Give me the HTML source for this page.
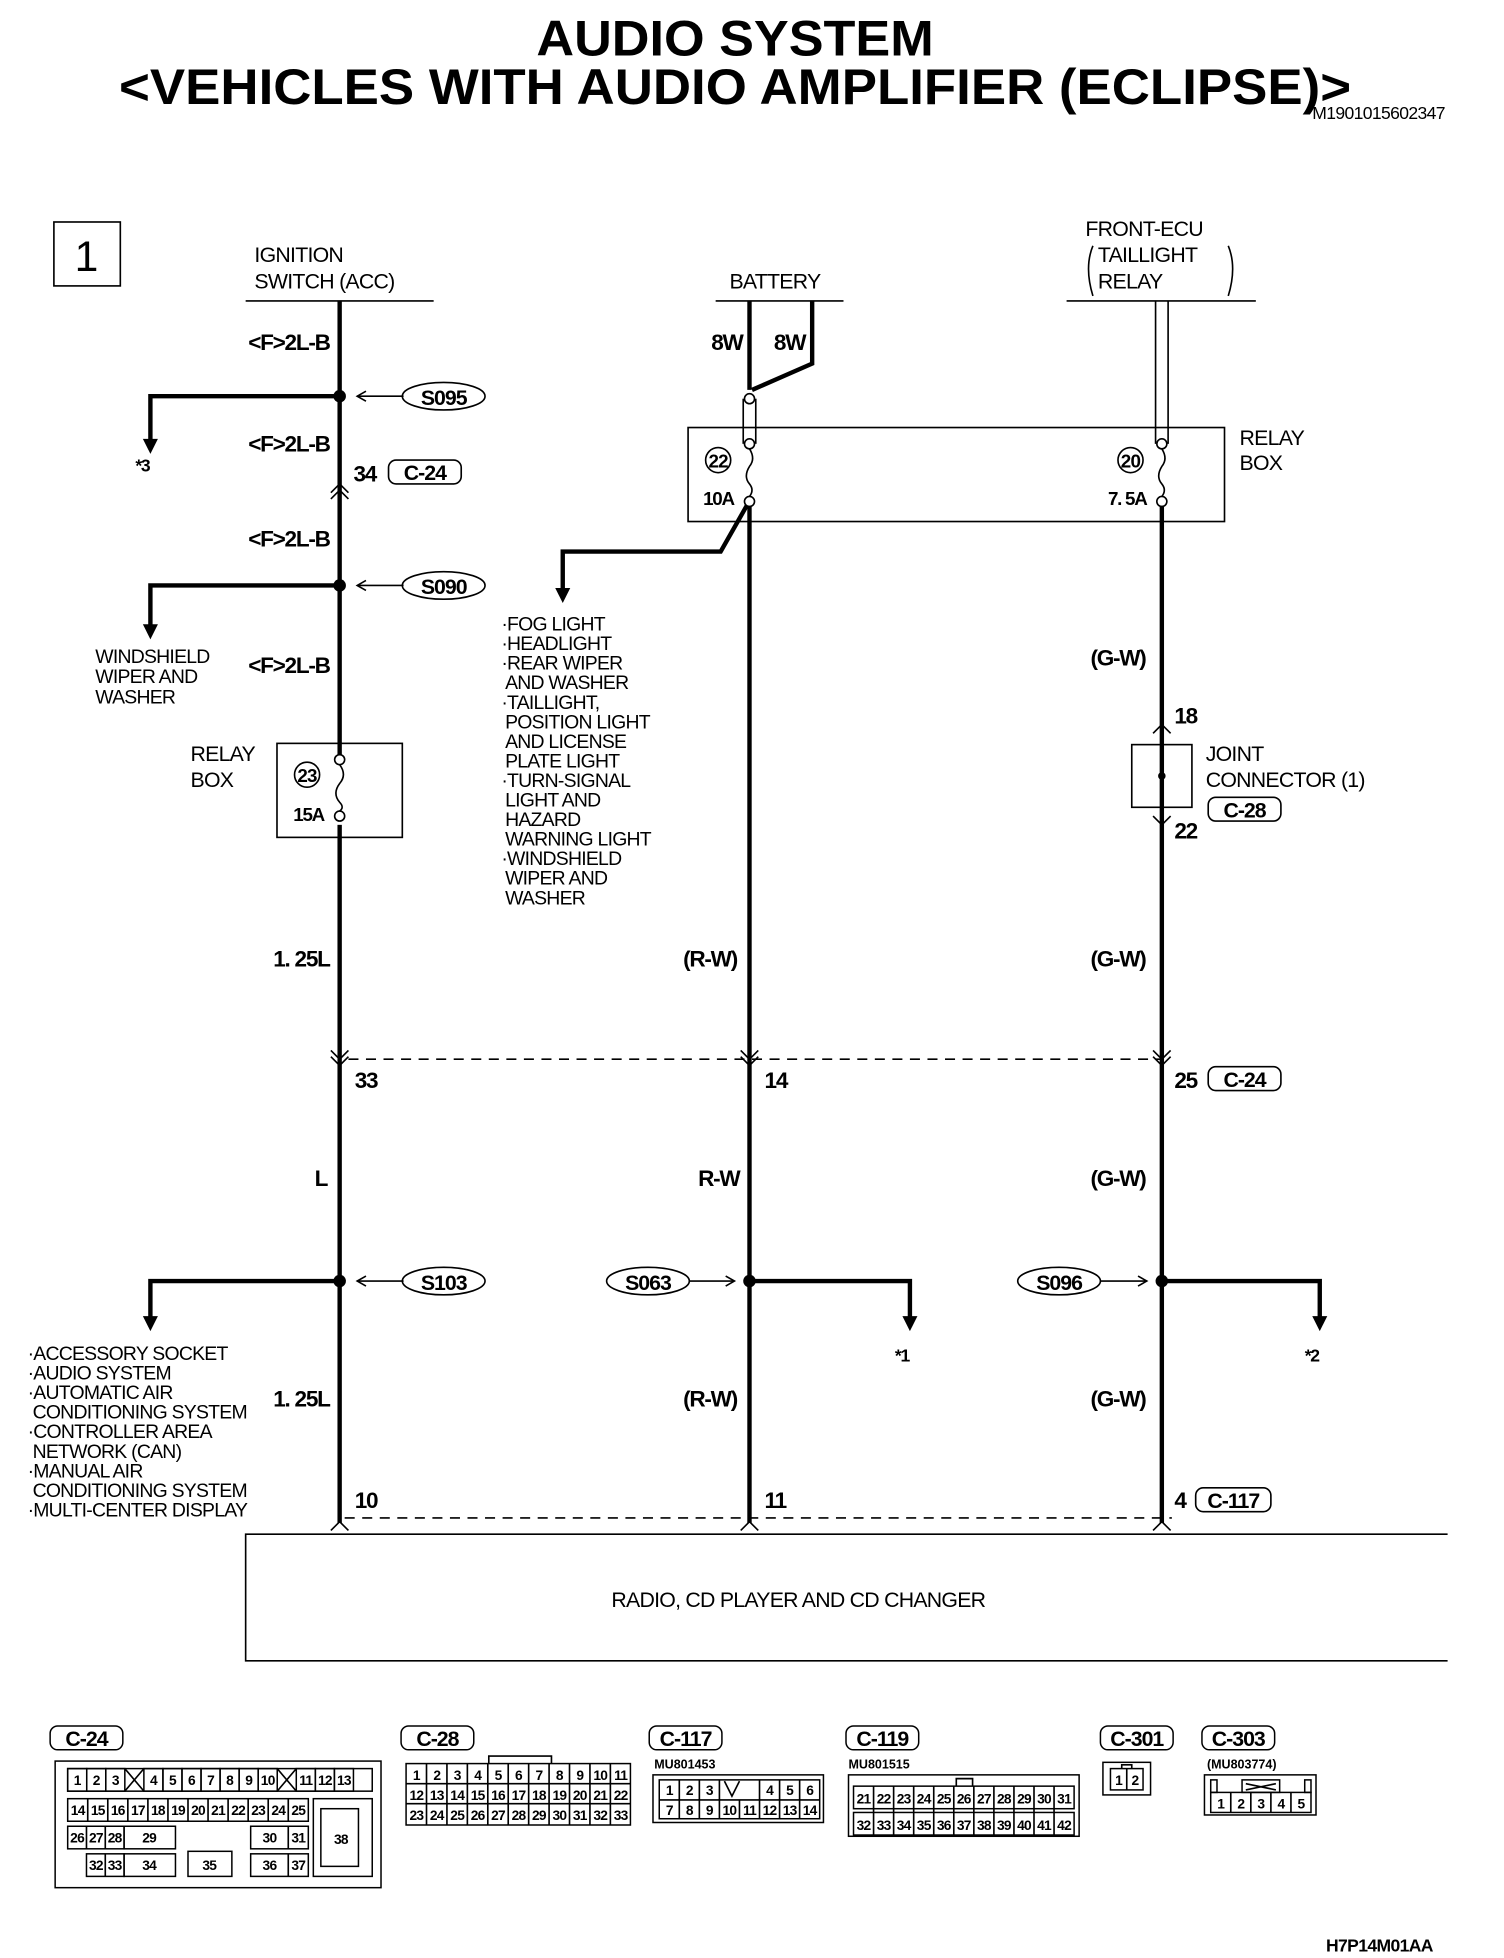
<!DOCTYPE html>
<html><head><meta charset="utf-8"><style>
html,body{margin:0;padding:0;background:#fff}
svg{display:block}
text{font-family:"Liberation Sans",sans-serif;fill:#000}
.r{font-size:17px;letter-spacing:-0.6px}
.b{font-size:18px;font-weight:bold;letter-spacing:-1px}
.s{font-size:15.5px;letter-spacing:-0.6px}
.c{font-size:11px;font-weight:bold;text-anchor:middle;letter-spacing:-0.6px}
.cl{font-size:17px;font-weight:bold;text-anchor:middle;letter-spacing:-0.8px}
.w{stroke:#000;stroke-width:3.5;fill:none}
.n{stroke:#000;stroke-width:1.3;fill:none}
.g rect{fill:none;stroke:#000;stroke-width:1.2}
</style></head><body>
<svg width="1504" height="1958" viewBox="0 0 1200 1562" xmlns="http://www.w3.org/2000/svg">
<!-- title -->
<text x="428" y="44" textLength="317" lengthAdjust="spacingAndGlyphs" style="font-size:40px;font-weight:bold">AUDIO SYSTEM</text>
<text x="95" y="83" textLength="983" lengthAdjust="spacingAndGlyphs" style="font-size:40px;font-weight:bold">&lt;VEHICLES WITH AUDIO AMPLIFIER (ECLIPSE)&gt;</text>
<text x="1047" y="95" style="font-size:14px;letter-spacing:-0.5px">M1901015602347</text>
<rect x="43" y="177" width="53" height="51" class="n"/>
<text x="69" y="216" text-anchor="middle" style="font-size:34px">1</text>

<!-- LEFT column -->
<text x="203" y="209" class="r">IGNITION</text>
<text x="203" y="230" class="r">SWITCH (ACC)</text>
<line x1="196" y1="240" x2="346" y2="240" class="n" stroke-width="2"/>
<line x1="271" y1="240" x2="271" y2="1215" class="w"/>
<text x="263" y="279" class="b" text-anchor="end">&lt;F&gt;2L-B</text>
<text x="263" y="360" class="b" text-anchor="end">&lt;F&gt;2L-B</text>
<text x="263" y="436" class="b" text-anchor="end">&lt;F&gt;2L-B</text>
<text x="263" y="537" class="b" text-anchor="end">&lt;F&gt;2L-B</text>
<circle cx="271" cy="316" r="5"/>
<polyline points="271,316 120,316 120,352" class="w"/>
<polygon points="114,350 126,350 120,362"/>
<text x="108" y="376" class="b" style="font-size:14px">*3</text>
<line x1="285" y1="316" x2="322" y2="316" class="n"/><polyline points="292,312 285,316 292,320" class="n"/>
<ellipse cx="354" cy="316" rx="33" ry="11" class="n" stroke-width="2"/><text x="354" y="323" class="cl">S095</text>
<text x="282" y="384" class="b">34</text>
<rect x="310" y="367" width="58" height="19" rx="6" class="n" stroke-width="1.6"/><text x="339" y="383" class="cl">C-24</text>
<polyline points="264,393 271,386 278,393" class="n"/><polyline points="264,398 271,391 278,398" class="n"/>
<circle cx="271" cy="467" r="5"/>
<polyline points="271,467 120,467 120,500" class="w"/>
<polygon points="114,498 126,498 120,510"/>
<line x1="285" y1="467" x2="322" y2="467" class="n"/><polyline points="292,463 285,467 292,471" class="n"/>
<ellipse cx="354" cy="467" rx="33" ry="11" class="n" stroke-width="2"/><text x="354" y="474" class="cl">S090</text>
<text x="76" y="529" class="s">WINDSHIELD</text>
<text x="76" y="545" class="s">WIPER AND</text>
<text x="76" y="561" class="s">WASHER</text>
<rect x="221" y="593" width="100" height="75" class="n"/>
<text x="152" y="607" class="r">RELAY</text><text x="152" y="628" class="r">BOX</text>
<circle cx="245" cy="618" r="10" class="n"/><text x="245" y="624" class="c" style="font-size:15px">23</text>
<text x="234" y="655" class="b" style="font-size:15px">15A</text>
<rect x="266" y="602" width="10" height="56" fill="#fff"/>
<circle cx="271" cy="606" r="4" class="n"/><circle cx="271" cy="651" r="4" class="n"/>
<path d="M271,610 q6,8 0,15 q-6,8 0,15 q4,4 0,7" class="n"/>
<text x="263" y="771" class="b" text-anchor="end">1. 25L</text>
<polyline points="264,838 271,845 278,838" class="n"/><polyline points="264,843 271,850 278,843" class="n"/>
<text x="283" y="868" class="b">33</text>
<line x1="278" y1="845" x2="927" y2="845" class="n" stroke-dasharray="8,6"/>
<text x="261" y="946" class="b" text-anchor="end">L</text>
<circle cx="271" cy="1022" r="5"/>
<polyline points="271,1022 120,1022 120,1052" class="w"/>
<polygon points="114,1050 126,1050 120,1062"/>
<line x1="285" y1="1022" x2="322" y2="1022" class="n"/><polyline points="292,1018 285,1022 292,1026" class="n"/>
<ellipse cx="354" cy="1022" rx="33" ry="11" class="n" stroke-width="2"/><text x="354" y="1029" class="cl">S103</text>
<text x="22" y="1085" class="s">·ACCESSORY SOCKET</text>
<text x="22" y="1100.6" class="s">·AUDIO SYSTEM</text>
<text x="22" y="1116.2" class="s">·AUTOMATIC AIR</text>
<text x="26" y="1131.8" class="s">CONDITIONING SYSTEM</text>
<text x="22" y="1147.4" class="s">·CONTROLLER AREA</text>
<text x="26" y="1163" class="s">NETWORK (CAN)</text>
<text x="22" y="1178.6" class="s">·MANUAL AIR</text>
<text x="26" y="1194.2" class="s">CONDITIONING SYSTEM</text>
<text x="22" y="1209.8" class="s">·MULTI-CENTER DISPLAY</text>
<text x="263" y="1122" class="b" text-anchor="end">1. 25L</text>
<text x="283" y="1203" class="b">10</text>
<line x1="275" y1="1211" x2="935" y2="1211" class="n" stroke-dasharray="8,6"/>
<polyline points="264,1221 271,1214 278,1221" class="n"/>
<polyline points="591,1221 598,1214 605,1221" class="n"/>
<polyline points="920,1221 927,1214 934,1221" class="n"/>
<polyline points="1155,1224 196,1224 196,1325 1155,1325" class="n" stroke-width="1.6"/>
<text x="637" y="1282" text-anchor="middle" class="r">RADIO, CD PLAYER AND CD CHANGER</text>

<!-- MIDDLE -->
<text x="582" y="230" class="r">BATTERY</text>
<line x1="571" y1="240" x2="673" y2="240" class="n" stroke-width="2"/>
<text x="580" y="279" class="b" text-anchor="middle">8W</text>
<text x="630" y="279" class="b" text-anchor="middle">8W</text>
<line x1="598" y1="240" x2="598" y2="311" class="w" stroke-width="3"/>
<polyline points="648,240 648,290 600,311" class="w" stroke-width="3"/>
<rect x="549" y="341" width="428" height="75" class="n"/>
<text x="989" y="355" class="r">RELAY</text><text x="989" y="375" class="r">BOX</text>
<line x1="593" y1="318" x2="593" y2="354" class="n"/><line x1="603" y1="318" x2="603" y2="354" class="n"/>
<circle cx="598" cy="318" r="4" fill="#fff" class="n"/><circle cx="598" cy="354" r="4" fill="#fff" class="n"/>
<path d="M598,358 q5,8 0,14 q-5,8 0,14 q4,5 0,10" class="n"/>
<circle cx="598" cy="400" r="4" fill="#fff" class="n"/>
<circle cx="573" cy="367" r="10" class="n"/><text x="573" y="373" class="c" style="font-size:15px">22</text>
<text x="561" y="403" class="b" style="font-size:15px">10A</text>
<line x1="598" y1="404" x2="598" y2="1215" class="w"/>
<polyline points="596,403 575,440 449,440 449,470" class="w" stroke-width="3"/>
<polygon points="443,469 455,469 449,481"/>
<text x="400" y="503" class="s">·FOG LIGHT</text>
<text x="400" y="518.6" class="s">·HEADLIGHT</text>
<text x="400" y="534.2" class="s">·REAR WIPER</text>
<text x="403" y="549.8" class="s">AND WASHER</text>
<text x="400" y="565.4" class="s">·TAILLIGHT,</text>
<text x="403" y="581" class="s">POSITION LIGHT</text>
<text x="403" y="596.6" class="s">AND LICENSE</text>
<text x="403" y="612.2" class="s">PLATE LIGHT</text>
<text x="400" y="627.8" class="s">·TURN-SIGNAL</text>
<text x="403" y="643.4" class="s">LIGHT AND</text>
<text x="403" y="659" class="s">HAZARD</text>
<text x="403" y="674.6" class="s">WARNING LIGHT</text>
<text x="400" y="690.2" class="s">·WINDSHIELD</text>
<text x="403" y="705.8" class="s">WIPER AND</text>
<text x="403" y="721.4" class="s">WASHER</text>
<text x="588" y="771" class="b" text-anchor="end">(R-W)</text>
<polyline points="591,838 598,845 605,838" class="n"/><polyline points="591,843 598,850 605,843" class="n"/>
<text x="610" y="868" class="b">14</text>
<text x="590" y="946" class="b" text-anchor="end">R-W</text>
<ellipse cx="517" cy="1022" rx="33" ry="11" class="n" stroke-width="2"/><text x="517" y="1029" class="cl">S063</text>
<line x1="550" y1="1022" x2="586" y2="1022" class="n"/><polyline points="579,1018 586,1022 579,1026" class="n"/>
<circle cx="598" cy="1022" r="5"/>
<polyline points="598,1022 726,1022 726,1052" class="w" stroke-width="3"/>
<polygon points="720,1050 732,1050 726,1062"/>
<text x="714" y="1086" class="b" style="font-size:14px">*1</text>
<text x="588" y="1122" class="b" text-anchor="end">(R-W)</text>
<text x="610" y="1203" class="b">11</text>

<!-- RIGHT -->
<text x="866" y="188" class="r">FRONT-ECU</text>
<text x="876" y="209" class="r">TAILLIGHT</text>
<text x="876" y="230" class="r">RELAY</text>
<path d="M872,196 q-7,17 0,40" class="n"/><path d="M980,196 q7,17 0,40" class="n"/>
<line x1="851" y1="240" x2="1002" y2="240" class="n" stroke-width="2"/>
<line x1="922" y1="240" x2="922" y2="354" class="n"/><line x1="932" y1="240" x2="932" y2="354" class="n"/>
<circle cx="927" cy="354" r="4" fill="#fff" class="n"/>
<path d="M927,358 q5,8 0,14 q-5,8 0,14 q4,5 0,10" class="n"/>
<circle cx="927" cy="400" r="4" fill="#fff" class="n"/>
<circle cx="902" cy="367" r="10" class="n"/><text x="902" y="373" class="c" style="font-size:15px">20</text>
<text x="884" y="403" class="b" style="font-size:15px">7. 5A</text>
<line x1="927" y1="404" x2="927" y2="1215" class="w"/>
<text x="914" y="531" class="b" text-anchor="end">(G-W)</text>
<polyline points="920,585 927,578 934,585" class="n"/>
<text x="937" y="577" class="b">18</text>
<rect x="903" y="594" width="48" height="50" fill="#fff" class="n"/>
<circle cx="927" cy="619" r="3"/>
<line x1="927" y1="594" x2="927" y2="600" class="n"/>
<polyline points="920,651 927,658 934,651" class="n"/>
<text x="937" y="669" class="b">22</text>
<text x="962" y="607" class="r">JOINT</text>
<text x="962" y="628" class="r">CONNECTOR (1)</text>
<rect x="964" y="636" width="58" height="19" rx="6" class="n" stroke-width="1.6"/><text x="993" y="652" class="cl">C-28</text>
<text x="914" y="771" class="b" text-anchor="end">(G-W)</text>
<polyline points="920,838 927,845 934,838" class="n"/><polyline points="920,843 927,850 934,843" class="n"/>
<text x="937" y="868" class="b">25</text>
<rect x="964" y="851" width="58" height="19" rx="6" class="n" stroke-width="1.6"/><text x="993" y="867" class="cl">C-24</text>
<text x="914" y="946" class="b" text-anchor="end">(G-W)</text>
<ellipse cx="845" cy="1022" rx="33" ry="11" class="n" stroke-width="2"/><text x="845" y="1029" class="cl">S096</text>
<line x1="878" y1="1022" x2="915" y2="1022" class="n"/><polyline points="908,1018 915,1022 908,1026" class="n"/>
<circle cx="927" cy="1022" r="5"/>
<polyline points="927,1022 1053,1022 1053,1052" class="w" stroke-width="3"/>
<polygon points="1047,1050 1059,1050 1053,1062"/>
<text x="1041" y="1086" class="b" style="font-size:14px">*2</text>
<text x="914" y="1122" class="b" text-anchor="end">(G-W)</text>
<text x="937" y="1203" class="b">4</text>
<rect x="954" y="1187" width="60" height="19" rx="6" class="n" stroke-width="1.6"/><text x="984" y="1203" class="cl">C-117</text>

<!-- connectors -->
<g class="g">
<rect x="40" y="1377" width="58" height="19" rx="6" stroke-width="1.6"/>
<rect x="44" y="1405" width="260" height="101" stroke-width="1.6"/>
<rect x="54" y="1411" width="243" height="18"/>
<rect x="54" y="1411" width="15.2" height="18"/><rect x="69.2" y="1411" width="15.2" height="18"/><rect x="84.4" y="1411" width="15.2" height="18"/>
<rect x="114.8" y="1411" width="15.2" height="18"/><rect x="130" y="1411" width="15.2" height="18"/><rect x="145.2" y="1411" width="15.2" height="18"/><rect x="160.4" y="1411" width="15.2" height="18"/><rect x="175.6" y="1411" width="15.2" height="18"/><rect x="190.8" y="1411" width="15.2" height="18"/><rect x="206" y="1411" width="15.2" height="18"/>
<rect x="236.4" y="1411" width="15.2" height="18"/><rect x="251.6" y="1411" width="15.2" height="18"/><rect x="266.8" y="1411" width="15.2" height="18"/>
<rect x="54" y="1435" width="192" height="18"/>
<rect x="54" y="1457" width="45" height="18"/><rect x="99" y="1457" width="41" height="18"/><rect x="200" y="1457" width="46" height="18"/>
<rect x="69" y="1479" width="30" height="18"/><rect x="99" y="1479" width="41" height="18"/><rect x="150" y="1477" width="35" height="20"/><rect x="200" y="1479" width="46" height="18"/>
<rect x="250" y="1435" width="47" height="62"/>
<rect x="256" y="1443" width="30" height="46"/>
</g>
<text x="69" y="1393" class="cl">C-24</text>
<path d="M99.6,1411 l15.2,18 M114.8,1411 l-15.2,18 M221.2,1411 l15.2,18 M236.4,1411 l-15.2,18" class="n"/>
<path d="M70,1435v18M86,1435v18M102,1435v18M118,1435v18M134,1435v18M150,1435v18M166,1435v18M182,1435v18M198,1435v18M214,1435v18M230,1435v18M69,1457v18M84,1457v18M230,1457v18M84,1479v18M230,1479v18" class="n"/>
<g class="c">
<text x="61.6" y="1424">1</text><text x="76.8" y="1424">2</text><text x="92" y="1424">3</text><text x="122.4" y="1424">4</text><text x="137.6" y="1424">5</text><text x="152.8" y="1424">6</text><text x="168" y="1424">7</text><text x="183.2" y="1424">8</text><text x="198.4" y="1424">9</text><text x="213.6" y="1424">10</text><text x="244" y="1424">11</text><text x="259.2" y="1424">12</text><text x="274.4" y="1424">13</text>
<text x="62" y="1448">14</text><text x="78" y="1448">15</text><text x="94" y="1448">16</text><text x="110" y="1448">17</text><text x="126" y="1448">18</text><text x="142" y="1448">19</text><text x="158" y="1448">20</text><text x="174" y="1448">21</text><text x="190" y="1448">22</text><text x="206" y="1448">23</text><text x="222" y="1448">24</text><text x="238" y="1448">25</text>
<text x="61.5" y="1470">26</text><text x="76.5" y="1470">27</text><text x="91.5" y="1470">28</text><text x="119" y="1470">29</text><text x="215" y="1470">30</text><text x="238" y="1470">31</text>
<text x="76.5" y="1492">32</text><text x="91.5" y="1492">33</text><text x="119" y="1492">34</text><text x="167" y="1492">35</text><text x="215" y="1492">36</text><text x="238" y="1492">37</text><text x="272" y="1471">38</text>
</g>

<!-- C-28 -->
<g class="g">
<rect x="320" y="1377" width="58" height="19" rx="6" stroke-width="1.6"/>
<rect x="324" y="1407" width="179" height="49" stroke-width="1.6"/>
</g>
<text x="349" y="1393" class="cl">C-28</text>
<polyline points="390,1407 390,1401 440,1401 440,1407" class="n"/>
<path d="M340.3,1407v49M356.6,1407v49M372.9,1407v49M389.2,1407v49M405.5,1407v49M421.8,1407v49M438.1,1407v49M454.4,1407v49M470.7,1407v49M487,1407v49M324,1423h179M324,1439h179" class="n"/>
<g class="c">
<text x="332.2" y="1420">1</text><text x="348.5" y="1420">2</text><text x="364.8" y="1420">3</text><text x="381.1" y="1420">4</text><text x="397.4" y="1420">5</text><text x="413.7" y="1420">6</text><text x="430" y="1420">7</text><text x="446.3" y="1420">8</text><text x="462.6" y="1420">9</text><text x="478.9" y="1420">10</text><text x="495.2" y="1420">11</text>
<text x="332.2" y="1436">12</text><text x="348.5" y="1436">13</text><text x="364.8" y="1436">14</text><text x="381.1" y="1436">15</text><text x="397.4" y="1436">16</text><text x="413.7" y="1436">17</text><text x="430" y="1436">18</text><text x="446.3" y="1436">19</text><text x="462.6" y="1436">20</text><text x="478.9" y="1436">21</text><text x="495.2" y="1436">22</text>
<text x="332.2" y="1452">23</text><text x="348.5" y="1452">24</text><text x="364.8" y="1452">25</text><text x="381.1" y="1452">26</text><text x="397.4" y="1452">27</text><text x="413.7" y="1452">28</text><text x="430" y="1452">29</text><text x="446.3" y="1452">30</text><text x="462.6" y="1452">31</text><text x="478.9" y="1452">32</text><text x="495.2" y="1452">33</text>
</g>

<!-- C-117 -->
<g class="g">
<rect x="518" y="1377" width="58" height="19" rx="6" stroke-width="1.6"/>
<rect x="521" y="1416" width="136" height="38" stroke-width="1.6"/>
<rect x="526" y="1420" width="128" height="31"/>
</g>
<text x="547" y="1393" class="cl">C-117</text>
<text x="522" y="1411" style="font-size:10px;font-weight:bold">MU801453</text>
<path d="M542,1420v31M558,1420v31M574,1420v31M590,1436v15M606,1420v31M622,1420v31M638,1420v31M526,1436h48M590,1436h64M574,1436h16" class="n"/>
<path d="M578,1421l6,12l6,-12" class="n"/>
<g class="c">
<text x="534" y="1432">1</text><text x="550" y="1432">2</text><text x="566" y="1432">3</text><text x="614" y="1432">4</text><text x="630" y="1432">5</text><text x="646" y="1432">6</text>
<text x="534" y="1448">7</text><text x="550" y="1448">8</text><text x="566" y="1448">9</text><text x="582" y="1448">10</text><text x="598" y="1448">11</text><text x="614" y="1448">12</text><text x="630" y="1448">13</text><text x="646" y="1448">14</text>
</g>

<!-- C-119 -->
<g class="g">
<rect x="675" y="1377" width="58" height="19" rx="6" stroke-width="1.6"/>
<rect x="677" y="1416" width="184" height="49" stroke-width="1.6"/>
<rect x="681" y="1425" width="176" height="18"/>
<rect x="681" y="1446" width="176" height="18"/>
</g>
<text x="704" y="1393" class="cl">C-119</text>
<text x="677" y="1411" style="font-size:10px;font-weight:bold">MU801515</text>
<polyline points="763,1425 763,1419 776,1419 776,1425" class="n"/>
<path d="M697,1425v39M713,1425v39M729,1425v39M745,1425v39M761,1425v39M777,1425v39M793,1425v39M809,1425v39M825,1425v39M841,1425v39" class="n"/>
<g class="c">
<text x="689" y="1439">21</text><text x="705" y="1439">22</text><text x="721" y="1439">23</text><text x="737" y="1439">24</text><text x="753" y="1439">25</text><text x="769" y="1439">26</text><text x="785" y="1439">27</text><text x="801" y="1439">28</text><text x="817" y="1439">29</text><text x="833" y="1439">30</text><text x="849" y="1439">31</text>
<text x="689" y="1460">32</text><text x="705" y="1460">33</text><text x="721" y="1460">34</text><text x="737" y="1460">35</text><text x="753" y="1460">36</text><text x="769" y="1460">37</text><text x="785" y="1460">38</text><text x="801" y="1460">39</text><text x="817" y="1460">40</text><text x="833" y="1460">41</text><text x="849" y="1460">42</text>
</g>

<!-- C-301 -->
<g class="g">
<rect x="878" y="1377" width="58" height="19" rx="6" stroke-width="1.6"/>
<rect x="880" y="1406" width="38" height="26" stroke-width="1.6"/>
<rect x="886" y="1411" width="26" height="17"/>
</g>
<text x="907" y="1393" class="cl">C-301</text>
<path d="M899,1411v17M895,1411v-3h8v3" class="n"/>
<g class="c"><text x="892.5" y="1424">1</text><text x="905.5" y="1424">2</text></g>

<!-- C-303 -->
<g class="g">
<rect x="959" y="1377" width="58" height="19" rx="6" stroke-width="1.6"/>
<rect x="961" y="1416" width="89" height="32" stroke-width="1.6"/>
<rect x="966" y="1430" width="80" height="16"/>
<rect x="966" y="1420" width="5" height="10"/><rect x="1041" y="1420" width="5" height="10"/>
<rect x="991" y="1420" width="30" height="10"/>
</g>
<text x="988" y="1393" class="cl">C-303</text>
<text x="963" y="1411" style="font-size:10px;font-weight:bold">(MU803774)</text>
<path d="M982,1430v16M998,1430v16M1014,1430v16M1030,1430v16M994,1423l24,5M994,1428l24,-5" class="n"/>
<g class="c"><text x="974" y="1443">1</text><text x="990" y="1443">2</text><text x="1006" y="1443">3</text><text x="1022" y="1443">4</text><text x="1038" y="1443">5</text></g>

<text x="1058" y="1557" style="font-size:14px;font-weight:bold;letter-spacing:-0.5px">H7P14M01AA</text>
</svg>
</body></html>
